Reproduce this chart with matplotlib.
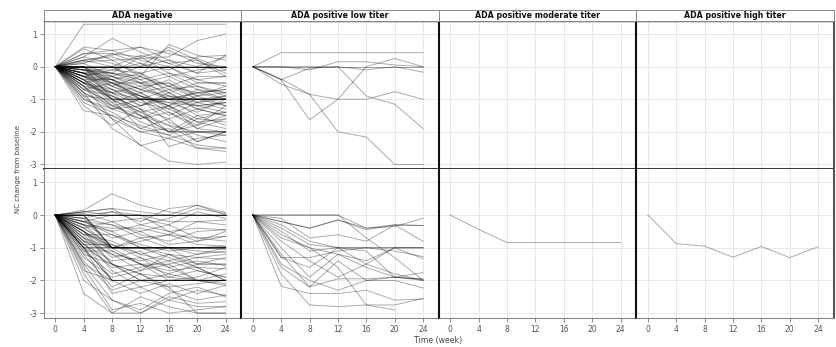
import numpy as np
import matplotlib
matplotlib.use("Agg")
import matplotlib.pyplot as plt

weeks = [0, 4, 8, 12, 16, 20, 24]
panel_titles = ["ADA negative", "ADA positive low titer",
                "ADA positive moderate titer", "ADA positive high titer"]
y_ticks = [1, 0, -1, -2, -3]
x_ticks = [0, 4, 8, 12, 16, 20, 24]
y_label = "NC change from baseline"
x_label = "Time (week)"

# ---- upper row ----
neg_top = [
    [0, 1.3, 1.3, 1.3, 1.3, 1.3, 1.3],
    [0, 0.3, 0.87, 0.45, 0.1, -0.2, 0.35],
    [0, 0.15, 0.2, 0.25, 0.3, 0.8, 1.0],
    [0, 0.6, 0.5, 0.6, 0.2, 0.0, 0.3],
    [0, 0.55, 0.2, -0.3, 0.68, 0.35, 0.2],
    [0, 0.4, 0.4, 0.1, -0.1, 0.3, 0.35],
    [0, 0, 0, 0, 0, 0, 0],
    [0, 0, 0, 0, 0, 0, 0],
    [0, 0, 0, 0, 0, 0, 0],
    [0, 0, 0, 0, 0, 0, 0],
    [0, 0, 0, 0, 0, 0, 0],
    [0, 0, 0, 0, 0, 0, 0],
    [0, 0, 0, 0, 0, -0.5, -0.5],
    [0, -0.2, -0.5, -1, -1, -1, -1],
    [0, -0.3, -1, -1, -1, -1, -1],
    [0, 0, -1, -1, -1, -1, -1],
    [0, -0.5, -1, -1, -1, -1, -1],
    [0, -0.1, -0.4, -0.7, -1, -1, -1],
    [0, -0.6, -1.2, -1.5, -2, -2, -2],
    [0, -0.4, -1, -1.5, -2, -2, -2],
    [0, -1.35, -1.5, -1.8, -2.1, -2.4, -2.5],
    [0, -0.8, -1.9, -2.4, -2.9, -3.0, -2.93],
    [0, -0.9, -1.6, -2.42, -2.2, -2.5, -2.6],
    [0, -1.2, -1.8, -1.3, -2.45, -2.2, -2.1],
    [0, -1.0, -1.4, -1.9, -1.6, -2.3, -2.0],
    [0, -0.7, -1.1, -1.7, -2.0, -1.5, -1.8],
    [0, -0.5, -0.9, -1.4, -1.2, -1.9, -1.6],
    [0, -0.2, -0.6, -0.9, -1.4, -1.8, -1.5],
    [0, -0.3, -0.4, -0.2, -0.8, -1.2, -1.4],
    [0, -0.1, -0.3, -0.6, -0.5, -0.9, -1.2],
    [0, 0.2, 0.0, -0.4, -0.9, -1.1, -0.9],
    [0, 0.1, -0.3, -0.5, -0.3, -0.7, -0.8],
    [0, -0.4, -0.8, -0.6, -1.0, -0.8, -0.7],
    [0, -0.2, -0.2, -0.5, -0.8, -0.5, -0.5],
    [0, 0.3, 0.1, -0.2, -0.6, -0.3, -0.3],
    [0, -0.1, -0.1, 0.1, -0.3, -0.1, 0.0],
    [0, 0.2, 0.3, 0.0, 0.2, -0.2, -0.1],
    [0, -0.6, -0.8, -1.2, -0.9, -1.3, -1.1],
    [0, -0.8, -1.3, -1.0, -1.5, -1.1, -1.0],
    [0, -0.5, -0.7, -1.1, -1.3, -1.0, -0.9],
    [0, -0.3, -0.7, -0.9, -1.1, -1.4, -1.0],
    [0, -0.1, -0.5, -0.8, -0.6, -1.0, -1.2],
    [0, 0.0, -0.6, -1.0, -0.7, -0.6, -0.8],
    [0, -0.2, -0.9, -1.3, -1.6, -1.3, -1.5],
    [0, -0.4, -1.1, -0.8, -1.2, -1.6, -1.7],
    [0, -0.9, -1.0, -1.4, -1.8, -2.0, -2.1],
    [0, -0.6, -1.3, -1.6, -1.2, -1.7, -1.9],
    [0, -0.3, -0.8, -1.0, -1.7, -2.1, -2.3],
    [0, -1.1, -1.5, -2.0, -1.9, -2.5, -2.5],
    [0, 0.4, 0.5, 0.2, 0.0, -0.4, -0.6],
    [0, 0.1, 0.4, 0.3, 0.5, 0.1, 0.0],
    [0, -0.2, 0.0, 0.35, 0.1, 0.2, -0.2],
    [0, -0.5, -0.3, -0.7, -0.4, -0.9, -0.6],
    [0, -0.7, -0.5, -0.9, -1.2, -0.7, -1.0],
    [0, -0.1, -0.2, -0.4, -0.2, -0.6, -0.9],
    [0, -0.3, -0.6, -0.3, -0.7, -1.1, -1.3],
    [0, 0.0, -0.4, -1.0, -1.1, -1.2, -1.1],
    [0, -0.2, -0.7, -1.2, -1.0, -0.8, -1.0],
    [0, -0.4, -0.4, -0.7, -0.9, -1.0, -1.0],
    [0, -0.8, -1.2, -1.6, -1.4, -1.9, -2.0],
    [0, -0.6, -1.6, -2.0, -2.2, -2.0, -2.0],
    [0, -0.5, -0.8, -1.5, -1.8, -2.3, -2.0],
    [0, 0.0, 0.0, -0.5, -1.0, -1.5, -1.4],
    [0, 0.0, -0.2, 0.3, -0.2, -0.4, -0.3],
    [0, 0.2, 0.35, 0.6, 0.4, 0.25, -0.1],
    [0, -0.3, -0.1, -0.2, 0.0, 0.0, 0.0],
    [0, 0.0, -0.5, -0.5, -0.5, -1.0, -1.0],
    [0, -0.2, -0.4, -0.8, -1.3, -1.7, -1.6],
    [0, -0.7, -0.9, -1.3, -2.0, -1.8, -1.2],
    [0, -0.4, -1.0, -1.9, -2.1, -1.6, -1.4],
    [0, -1.0, -1.3, -1.2, -0.8, -1.3, -1.5],
    [0, -0.1, -0.2, -0.3, -0.6, -0.8, -0.7],
    [0, -0.5, -1.2, -1.0, -1.0, -1.2, -1.1],
    [0, -0.3, -0.5, -0.9, -1.2, -0.9, -0.8],
    [0, -0.2, -0.3, 0.0, 0.6, 0.2, -0.3],
]

low_top = [
    [0, 0.43, 0.43, 0.43, 0.43, 0.43, 0.43],
    [0, 0, 0, 0, 0, 0, 0],
    [0, -0.4, -1.63, -1.0, 0.0, 0.25, 0.0],
    [0, -0.54, -0.85, -2.0, -2.16, -3.0, -3.0],
    [0, -0.38, -0.85, -1.0, -1.0, -0.77, -1.0],
    [0, -0.4, -0.05, 0.0, -0.1, 0.0, -0.17],
    [0, 0, 0, 0, -0.9, -1.15, -1.9],
    [0, 0, -0.1, 0.15, 0.15, 0.05, 0.0],
]

mod_top = []
high_top = []

# ---- lower row ----
neg_bottom = [
    [0, 0, 0, 0, 0, 0, 0],
    [0, 0, 0, 0, 0, 0, 0],
    [0, 0, 0, 0, 0, 0, 0],
    [0, 0, 0, 0, 0, 0, 0],
    [0, 0.1, 0, 0, 0, 0, 0],
    [0, 0.15, 0.65, 0.3, 0.1, 0.0, 0.0],
    [0, 0.1, 0.2, 0.1, 0.0, 0.3, 0.08],
    [0, 0.1, 0.2, -0.3, -0.1, 0.2, 0.05],
    [0, -0.1, 0.1, 0, -0.2, -0.2, -0.15],
    [0, 0, -1, -1, -1, -1, -1],
    [0, 0, -1, -1, -1, -1, -1],
    [0, 0, -1, -1, -1, -1, -1],
    [0, -0.1, -1, -1, -1, -1, -1],
    [0, -1, -1, -1, -1, -1, -1],
    [0, -1, -1, -1, -1, -1, -1],
    [0, -0.5, -1, -1, -1, -1, -0.95],
    [0, -0.5, -1, -1, -1.3, -1.6, -2],
    [0, -0.4, -1, -1, -1.2, -1.6, -2],
    [0, -0.8, -1, -1.5, -1.5, -2, -2],
    [0, -1, -2, -2, -2, -2, -2],
    [0, -1, -2, -2, -2, -2, -2],
    [0, -1.5, -2, -2, -2, -2, -2],
    [0, -0.5, -1.5, -2, -2, -2, -2],
    [0, -0.8, -2, -2, -2, -2, -2.1],
    [0, -2.4, -3, -3, -2.6, -2.8, -2.8],
    [0, -1.8, -3, -2.5, -2.8, -3, -3],
    [0, -2, -2.6, -2.9, -2.4, -2.2, -2.5],
    [0, -1.5, -2.6, -3, -2.5, -2.7, -2.65],
    [0, -1.2, -2.2, -1.8, -2.3, -2.6, -2.45],
    [0, -1.0, -1.5, -1.8, -2.2, -3.0, -3.0],
    [0, -0.3, -0.5, -0.3, -0.5, -0.4, -0.45],
    [0, -0.2, -0.3, -0.5, -0.3, -0.7, -0.65],
    [0, -0.4, -0.2, -0.6, -0.8, -0.5, -0.45],
    [0, -0.3, -0.7, -0.5, -0.9, -0.8, -0.65],
    [0, -0.6, -0.8, -1.2, -1.0, -1.1, -1.15],
    [0, -0.7, -1.2, -1.4, -1.2, -1.3, -1.35],
    [0, -0.5, -1.3, -1.1, -1.6, -1.4, -1.55],
    [0, -0.9, -1.6, -1.5, -1.7, -1.6, -1.65],
    [0, -1.1, -1.8, -1.6, -1.4, -1.7, -1.9],
    [0, -0.6, -1.5, -1.8, -1.9, -1.7, -1.9],
    [0, -0.9, -1.4, -1.3, -1.9, -2.0, -2.15],
    [0, -1.3, -1.9, -1.7, -1.5, -1.3, -1.2],
    [0, -0.8, -1.2, -1.7, -1.2, -1.5, -1.5],
    [0, -0.2, -0.6, -0.9, -1.1, -1.0, -1.05],
    [0, -0.1, -0.3, -0.7, -0.6, -0.9, -0.95],
    [0, -0.3, -0.4, -0.4, -0.6, -0.2, -0.3],
    [0, 0.05, -0.2, -0.1, -0.3, 0.1, -0.1],
    [0, -0.7, -1.0, -0.8, -0.6, -0.7, -0.8],
    [0, -0.4, -0.9, -1.2, -1.4, -1.2, -1.1],
    [0, -1.2, -1.5, -2.0, -1.8, -2.0, -1.8],
    [0, -1.4, -2.3, -2.0, -2.2, -2.1, -2.0],
    [0, -1.7, -2.0, -2.4, -2.1, -2.4, -2.15],
    [0, -1.0, -2.4, -2.2, -2.6, -2.3, -2.45],
    [0, -1.6, -2.9, -2.7, -3.0, -2.9, -2.8],
    [0, -0.7, -1.7, -2.2, -2.0, -1.9, -1.6],
    [0, -0.5, -1.1, -1.5, -1.8, -1.5, -1.3],
    [0, -0.3, -1.0, -0.7, -1.0, -1.2, -1.0],
    [0, -0.2, -0.5, -1.0, -1.0, -1.0, -1.0],
    [0, -0.6, -0.6, -1.0, -1.0, -1.5, -1.5],
    [0, -0.9, -0.9, -1.3, -1.6, -2.0, -2.0],
    [0, -1.1, -1.1, -1.5, -2.0, -2.0, -2.0],
    [0, 0, 0.1, -0.2, 0.2, 0.3, 0.0],
    [0, -0.2, 0.0, 0.0, -0.5, -0.8, -0.5],
]

low_bottom = [
    [0, 0, 0, 0, -0.4, -0.35, -0.1],
    [0, 0, 0, 0, -0.7, -1.3, -2.0],
    [0, -0.2, -0.4, -0.15, -0.45, -0.3, -0.32],
    [0, -0.3, -0.8, -1.0, -1.0, -1.0, -1.0],
    [0, -0.5, -1.1, -1.0, -1.0, -1.0, -1.0],
    [0, -0.4, -0.9, -1.0, -1.5, -1.8, -2.0],
    [0, -0.7, -1.0, -1.2, -1.6, -1.9, -2.0],
    [0, -1.3, -1.3, -1.1, -1.0, -1.1, -1.27],
    [0, -1.0, -1.9, -1.2, -1.4, -1.0, -1.33],
    [0, -1.6, -2.2, -1.95, -1.95, -1.9, -1.96],
    [0, -1.5, -2.0, -2.3, -2.0, -1.9, -1.76],
    [0, -2.18, -2.4, -2.4, -2.3, -2.6, -2.57],
    [0, -1.8, -2.75, -2.8, -2.75, -2.75, -2.55],
    [0, -1.2, -2.2, -1.4, -2.0, -2.0, -2.23],
    [0, -0.6, -1.0, -1.6, -2.75, -2.9, np.nan],
    [0, -0.2, -0.4, -0.15, -0.4, -0.3, -0.32],
    [0, -0.1, -0.7, -0.6, -0.8, -0.3, -0.8],
    [0, -0.8, -1.4, -1.9, -1.5, -1.0, -1.0],
    [0, -1.3, -1.6, -1.0, -1.1, -1.9, -1.96],
]

mod_bottom = [
    [0, -0.44, -0.84, -0.84, -0.84, -0.84, -0.84],
]

high_bottom = [
    [0, -0.87, -0.95, -1.29, -0.96, -1.30, -0.97],
]

rows = [
    [neg_top, low_top, mod_top, high_top],
    [neg_bottom, low_bottom, mod_bottom, high_bottom],
]

# ---- layout in pixels ----
W, H = 837, 347
fig = plt.figure(figsize=(W / 100, H / 100), dpi=100)
fig.patch.set_facecolor("white")

col_left = [44, 241.5, 439, 636.5]
col_w = 197.5
row_top = [20.7, 169.0]
row_h = [148.3, 148.7]
strip_top, strip_h = 10.0, 10.7


def px_rect(x, y, w, h):
    return [x / W, 1 - (y + h) / H, w / W, h / H]


tick_col = "#777777"
label_col = "#555555"

for r in range(2):
    for c in range(4):
        ax = fig.add_axes(px_rect(col_left[c], row_top[r], col_w, row_h[r]))
        ax.set_xlim(-1.6, 26.25)
        ax.set_ylim(-3.14, 1.41)
        ax.set_xticks(x_ticks)
        ax.set_yticks(y_ticks)
        ax.grid(True, color="#e8e8e8", linewidth=0.7)
        ax.set_axisbelow(True)

        for series in rows[r][c]:
            ax.plot(weeks, series, color="black", alpha=0.33,
                    linewidth=0.7, solid_joinstyle="miter")

        # frame
        for s in ax.spines.values():
            s.set_visible(False)
        if c == 0:
            ax.spines["left"].set_visible(True)
            ax.spines["left"].set_color("#888888")
            ax.spines["left"].set_linewidth(0.8)
        else:
            ax.spines["left"].set_visible(True)
            ax.spines["left"].set_color("#111111")
            ax.spines["left"].set_linewidth(1.5)
        if c == 3:
            ax.spines["right"].set_visible(True)
            ax.spines["right"].set_color("#555555")
            ax.spines["right"].set_linewidth(1.5)
        if r == 0:
            ax.spines["top"].set_visible(True)
            ax.spines["top"].set_color("#333333")
            ax.spines["top"].set_linewidth(1.0)
            ax.spines["bottom"].set_visible(True)
            ax.spines["bottom"].set_color("#111111")
            ax.spines["bottom"].set_linewidth(1.2)
        else:
            ax.spines["bottom"].set_visible(True)
            ax.spines["bottom"].set_color("#888888")
            ax.spines["bottom"].set_linewidth(0.8)

        ax.tick_params(axis="both", colors=tick_col, labelcolor=label_col,
                       labelsize=5.5, length=3, width=0.6, pad=2)
        if c == 0:
            ax.set_yticklabels([str(v) for v in y_ticks])
        else:
            ax.tick_params(axis="y", left=False, labelleft=False)
        if r == 1:
            ax.set_xticklabels([str(v) for v in x_ticks])
        else:
            ax.tick_params(axis="x", bottom=False, labelbottom=False)

# panel strips
for c in range(4):
    sax = fig.add_axes(px_rect(col_left[c], strip_top, col_w, strip_h))
    sax.set_xticks([])
    sax.set_yticks([])
    for s in sax.spines.values():
        s.set_color("#888888")
        s.set_linewidth(0.7)
    sax.text(0.5, 0.45, panel_titles[c], ha="center", va="center",
             fontsize=5.7, fontweight="bold", color="#111111",
             transform=sax.transAxes)

fig.text(18 / W, 1 - 169 / H, y_label, rotation=90, ha="center",
         va="center", fontsize=5.0, color="#444444")
fig.text(438.5 / W, 1 - 341 / H, x_label, ha="center", va="center",
         fontsize=5.6, color="#444444")

fig.savefig("out.png", dpi=100, facecolor="white")
